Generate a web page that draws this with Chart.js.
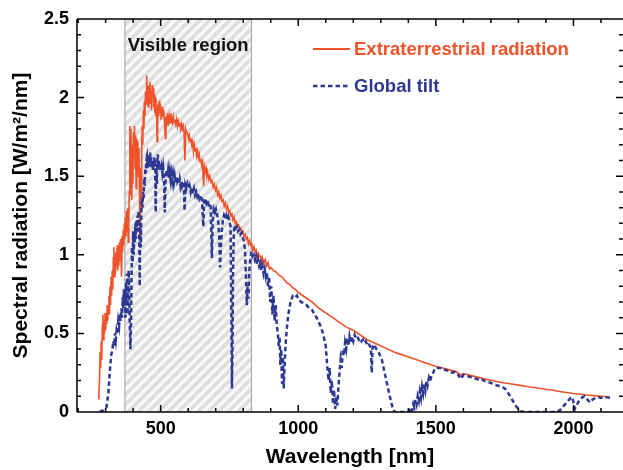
<!DOCTYPE html>
<html>
<head>
<meta charset="utf-8">
<script src="https://cdn.jsdelivr.net/npm/chart.js@4.4.0/dist/chart.umd.min.js"></script>
<style>
  html, body { margin: 0; padding: 0; background: #fff; }
</style>
</head>
<body>
<canvas id="spectrumChart" width="623" height="470"></canvas>
<script>
// Extraterrestrial radiation: wavelength [nm] and spectral radiation [W/m2/nm]
var extraWavelength = [
  275, 278, 280, 282, 284, 286, 288, 290, 292, 294,
  296, 298, 300, 302, 304, 306, 308, 310, 312, 314,
  316, 318, 320, 322, 324, 326, 328, 330, 332, 334,
  336, 338, 340, 342, 344, 346, 348, 350, 352, 354,
  356, 358, 360, 362, 364, 366, 368, 370, 372, 374,
  376, 378, 380, 382, 384, 386, 388, 390, 392, 394,
  395, 397, 399, 401, 403, 405, 407, 409, 411, 413,
  415, 417, 419, 421, 423, 425, 427, 429, 431, 433,
  435, 437, 439, 441, 443, 445, 447, 449, 451, 453,
  455, 457, 459, 461, 463, 465, 467, 469, 471, 473,
  475, 477, 479, 481, 483, 485, 487, 489, 491, 493,
  495, 497, 499, 502, 505, 508, 511, 514, 517, 519,
  522, 525, 528, 531, 534, 537, 540, 543, 546, 549,
  552, 555, 558, 561, 564, 567, 570, 573, 576, 579,
  582, 585, 588, 591, 594, 598, 601, 604, 607, 610,
  613, 616, 619, 622, 625, 628, 631, 634, 637, 640,
  643, 646, 649, 652, 656, 659, 662, 665, 668, 671,
  675, 679, 683, 687, 691, 695, 699, 703, 707, 711,
  715, 719, 723, 727, 731, 735, 739, 743, 747, 751,
  755, 759, 763, 767, 771, 775, 779, 783, 787, 791,
  795, 799, 803, 807, 811, 815, 819, 823, 827, 831,
  835, 839, 843, 847, 851, 855, 860, 864, 866, 870,
  875, 880, 885, 890, 895, 900, 910, 920, 930, 940,
  950, 960, 970, 980, 990, 1000, 1025, 1050, 1075, 1100,
  1125, 1150, 1175, 1200, 1225, 1250, 1275, 1300, 1325, 1350,
  1375, 1400, 1425, 1450, 1475, 1500, 1525, 1550, 1575, 1590,
  1600, 1625, 1650, 1675, 1700, 1725, 1750, 1775, 1800, 1825,
  1850, 1875, 1900, 1925, 1950, 1975, 2000, 2025, 2050, 2075,
  2100, 2133
];
var extraValues = [
  0.08, 0.22, 0.38, 0.28, 0.45, 0.33, 0.55, 0.62, 0.46, 0.58,
  0.50, 0.63, 0.52, 0.60, 0.56, 0.68, 0.58, 0.66, 0.74, 0.62,
  0.80, 0.68, 0.86, 0.74, 0.90, 0.78, 0.98, 1.05, 0.86, 1.00,
  0.88, 1.02, 0.92, 1.06, 0.90, 1.00, 0.93, 1.08, 0.96, 1.10,
  0.98, 0.86, 1.12, 1.02, 1.16, 1.06, 1.20, 1.10, 1.24, 1.12,
  1.28, 1.15, 1.30, 1.08, 1.20, 1.40, 1.82, 1.38, 1.80, 1.50,
  1.35, 1.70, 1.45, 1.78, 1.62, 1.82, 1.55, 1.76, 1.42, 1.74,
  1.60, 1.72, 1.50, 1.68, 1.40, 1.10, 1.55, 1.30, 1.68, 1.82,
  1.70, 1.92, 1.80, 1.98, 1.88, 2.04, 1.96, 2.14, 1.98, 2.07,
  1.94, 2.08, 1.98, 2.10, 1.96, 2.04, 1.92, 2.08, 2.00, 2.06,
  1.94, 2.02, 1.90, 2.00, 1.88, 1.95, 1.72, 1.92, 1.96, 1.88,
  1.98, 1.90, 1.96, 1.86, 1.94, 1.88, 1.92, 1.84, 1.74, 1.88,
  1.84, 1.90, 1.82, 1.88, 1.84, 1.90, 1.86, 1.84, 1.88, 1.84,
  1.86, 1.83, 1.86, 1.82, 1.85, 1.82, 1.84, 1.80, 1.83, 1.80,
  1.82, 1.78, 1.60, 1.80, 1.78, 1.77, 1.74, 1.76, 1.72, 1.74,
  1.70, 1.72, 1.66, 1.70, 1.66, 1.68, 1.63, 1.66, 1.62, 1.64,
  1.59, 1.61, 1.57, 1.59, 1.44, 1.56, 1.53, 1.55, 1.50, 1.52,
  1.48, 1.50, 1.46, 1.47, 1.43, 1.45, 1.41, 1.43, 1.38, 1.40,
  1.36, 1.38, 1.34, 1.35, 1.31, 1.33, 1.29, 1.31, 1.27, 1.28,
  1.25, 1.26, 1.22, 1.24, 1.20, 1.21, 1.18, 1.19, 1.16, 1.17,
  1.14, 1.15, 1.12, 1.13, 1.10, 1.11, 1.07, 1.09, 1.06, 1.07,
  1.03, 1.05, 1.02, 1.03, 0.97, 1.01, 0.99, 0.99, 0.94, 0.98,
  0.95, 0.97, 0.93, 0.95, 0.91, 0.92, 0.90, 0.89, 0.87, 0.86,
  0.84, 0.82, 0.81, 0.79, 0.78, 0.76, 0.73, 0.70, 0.66, 0.63,
  0.60, 0.57, 0.54, 0.52, 0.49, 0.46, 0.44, 0.42, 0.40, 0.38,
  0.365, 0.35, 0.335, 0.32, 0.305, 0.29, 0.28, 0.268, 0.256, 0.235,
  0.245, 0.233, 0.222, 0.212, 0.202, 0.193, 0.185, 0.178, 0.171, 0.164,
  0.157, 0.151, 0.145, 0.138, 0.130, 0.124, 0.118, 0.113, 0.108, 0.104,
  0.100, 0.095
];

// Global tilt: wavelength [nm] and spectral radiation [W/m2/nm]
var globalWavelength = [
  278, 290, 303, 310, 315, 320, 325, 328, 331, 334,
  337, 340, 343, 346, 349, 351, 354, 357, 360, 362,
  364, 366, 368, 370, 372, 374, 376, 378, 380, 382,
  384, 386, 388, 390, 392, 394, 396, 398, 400, 402,
  404, 406, 408, 410, 412, 414, 416, 418, 420, 422,
  424, 426, 428, 430, 432, 434, 436, 438, 440, 442,
  444, 446, 448, 450, 452, 454, 456, 458, 460, 462,
  464, 466, 468, 470, 472, 474, 476, 478, 480, 482,
  484, 486, 488, 490, 492, 494, 496, 498, 500, 503,
  506, 509, 512, 515, 518, 521, 524, 527, 530, 533,
  536, 539, 542, 545, 548, 551, 554, 557, 560, 563,
  566, 569, 572, 575, 578, 581, 584, 587, 590, 593,
  597, 601, 605, 609, 613, 617, 621, 625, 629, 633,
  637, 641, 645, 650, 655, 658, 662, 666, 670, 674,
  678, 682, 686, 689, 693, 697, 701, 705, 709, 713,
  716, 719, 722, 726, 730, 734, 738, 742, 746, 750,
  754, 757, 759, 761, 763, 766, 770, 774, 778, 782,
  786, 790, 794, 798, 802, 806, 810, 813, 816, 819,
  822, 826, 830, 834, 838, 842, 846, 850, 854, 858,
  862, 866, 870, 874, 878, 882, 886, 890, 894, 898,
  902, 906, 910, 914, 918, 922, 926, 929, 932, 935,
  938, 941, 944, 947, 950, 953, 956, 960, 964, 968,
  972, 976, 980, 985, 990, 995, 1000, 1010, 1020, 1030,
  1040, 1050, 1060, 1070, 1080, 1090, 1100, 1105, 1110, 1114,
  1118, 1122, 1126, 1130, 1134, 1138, 1142, 1146, 1150, 1154,
  1158, 1162, 1166, 1170, 1174, 1178, 1182, 1186, 1190, 1195,
  1200, 1205, 1210, 1215, 1220, 1225, 1230, 1235, 1240, 1245,
  1250, 1255, 1260, 1264, 1267, 1270, 1274, 1278, 1284, 1290,
  1297, 1304, 1310, 1315, 1320, 1325, 1330, 1338, 1344, 1350,
  1360, 1370, 1380, 1390, 1400, 1405, 1410, 1414, 1418, 1422,
  1426, 1430, 1434, 1438, 1442, 1446, 1450, 1454, 1458, 1462,
  1466, 1470, 1475, 1480, 1485, 1490, 1495, 1500, 1510, 1520,
  1530, 1540, 1550, 1560, 1570, 1580, 1590, 1600, 1610, 1620,
  1630, 1640, 1650, 1660, 1670, 1680, 1690, 1700, 1710, 1720,
  1730, 1740, 1750, 1760, 1770, 1780, 1790, 1800, 1810, 1820,
  1840, 1860, 1880, 1900, 1920, 1940, 1950, 1960, 1970, 1980,
  1990, 1995, 2000, 2005, 2010, 2020, 2030, 2040, 2050, 2060,
  2070, 2080, 2090, 2100, 2110, 2120, 2140
];
var globalValues = [
  0.00, 0.01, 0.03, 0.12, 0.25, 0.36, 0.40, 0.45, 0.42, 0.50,
  0.46, 0.52, 0.50, 0.58, 0.55, 0.62, 0.58, 0.66, 0.60, 0.73,
  0.66, 0.78, 0.70, 0.76, 0.60, 0.82, 0.70, 0.88, 0.62, 0.80,
  0.90, 0.70, 0.55, 0.40, 0.52, 0.85, 1.05, 0.95, 1.15, 1.00,
  1.12, 1.08, 1.20, 1.10, 1.22, 1.15, 1.25, 1.18, 1.28, 1.10,
  0.80, 1.20, 1.05, 1.30, 1.36, 1.30, 1.40, 1.36, 1.48, 1.44,
  1.55, 1.52, 1.60, 1.62, 1.55, 1.64, 1.58, 1.62, 1.56, 1.65,
  1.58, 1.62, 1.55, 1.60, 1.54, 1.60, 1.56, 1.62, 1.55, 1.27,
  1.58, 1.45, 1.60, 1.64, 1.56, 1.60, 1.54, 1.58, 1.53, 1.56,
  1.52, 1.56, 1.50, 1.27, 1.48, 1.54, 1.50, 1.54, 1.49, 1.53,
  1.48, 1.52, 1.47, 1.51, 1.46, 1.50, 1.46, 1.50, 1.47, 1.49,
  1.45, 1.48, 1.44, 1.47, 1.44, 1.46, 1.43, 1.28, 1.44, 1.42,
  1.45, 1.42, 1.44, 1.40, 1.43, 1.39, 1.42, 1.38, 1.40, 1.37,
  1.39, 1.36, 1.38, 1.35, 1.18, 1.34, 1.36, 1.33, 1.35, 1.32,
  1.33, 1.30, 0.98, 1.20, 1.29, 1.27, 1.29, 1.26, 1.22, 1.10,
  0.92, 1.06, 1.15, 1.22, 1.25, 1.23, 1.25, 1.22, 1.24, 1.21,
  1.18, 0.60, 0.15, 0.40, 0.90, 1.15, 1.19, 1.17, 1.18, 1.15,
  1.16, 1.13, 1.14, 1.11, 1.09, 1.04, 0.86, 0.68, 0.80, 0.72,
  0.90, 0.97, 1.02, 0.99, 1.00, 0.97, 0.99, 0.94, 0.97, 0.93,
  0.95, 0.90, 0.93, 0.88, 0.91, 0.86, 0.89, 0.80, 0.86, 0.70,
  0.80, 0.62, 0.74, 0.58, 0.68, 0.55, 0.50, 0.42, 0.48, 0.30,
  0.40, 0.18, 0.35, 0.15, 0.28, 0.40, 0.48, 0.56, 0.62, 0.66,
  0.70, 0.72, 0.74, 0.74, 0.73, 0.74, 0.72, 0.70, 0.69, 0.68,
  0.66, 0.65, 0.62, 0.59, 0.55, 0.50, 0.42, 0.30, 0.20, 0.28,
  0.12, 0.20, 0.05, 0.14, 0.02, 0.10, 0.04, 0.16, 0.25, 0.33,
  0.28, 0.40, 0.36, 0.44, 0.40, 0.47, 0.42, 0.48, 0.44, 0.48,
  0.45, 0.49, 0.47, 0.48, 0.46, 0.47, 0.45, 0.46, 0.44, 0.45,
  0.43, 0.44, 0.42, 0.40, 0.25, 0.41, 0.43, 0.42, 0.40, 0.39,
  0.36, 0.33, 0.28, 0.24, 0.20, 0.16, 0.12, 0.06, 0.02, 0.00,
  0.00, 0.00, 0.00, 0.00, 0.00, 0.01, 0.03, 0.01, 0.05, 0.03,
  0.08, 0.05, 0.10, 0.07, 0.13, 0.09, 0.16, 0.12, 0.18, 0.14,
  0.20, 0.17, 0.22, 0.20, 0.24, 0.25, 0.27, 0.28, 0.28, 0.28,
  0.27, 0.265, 0.26, 0.25, 0.255, 0.24, 0.21, 0.235, 0.23, 0.225,
  0.22, 0.215, 0.21, 0.20, 0.205, 0.195, 0.19, 0.185, 0.175, 0.17,
  0.165, 0.16, 0.15, 0.13, 0.10, 0.07, 0.04, 0.02, 0.005, 0.00,
  0.00, 0.00, 0.00, 0.00, 0.00, 0.00, 0.01, 0.03, 0.05, 0.07,
  0.09, 0.095, 0.06, 0.02, 0.04, 0.07, 0.09, 0.10, 0.08, 0.06,
  0.08, 0.09, 0.095, 0.09, 0.095, 0.093, 0.09
];

var seriesLabels = ['Extraterrestrial radiation', 'Global tilt'];
var xTicks = [500, 1000, 1500, 2000];
var yTicks = [0, 0.5, 1, 1.5, 2, 2.5];
var visibleFrom = 370;
var visibleTo = 830;
var bandLabel = 'Visible region';

var RED = 'rgb(240, 82, 42)';
var BLUE = 'rgb(44, 56, 145)';
var FONT = '"Liberation Sans", Arial, sans-serif';

function toPoints(xs, ys) {
    var pts = [];
    for (var i = 0; i < xs.length; i++) {
        pts.push({ x: xs[i], y: ys[i] });
    }
    return pts;
}

// hatched "Visible region" band, drawn under the curves
var visibleBand = {
    id: 'visibleBand',
    beforeDatasetsDraw: function (chart) {
        var ctx = chart.ctx, area = chart.chartArea;
        var x0 = chart.scales.x.getPixelForValue(visibleFrom);
        var x1 = chart.scales.x.getPixelForValue(visibleTo);

        var s = 10;
        var tile = document.createElement('canvas');
        tile.width = s;
        tile.height = s;
        var t = tile.getContext('2d');
        t.fillStyle = '#f8f8f8';
        t.fillRect(0, 0, s, s);
        t.strokeStyle = '#dedede';
        t.lineWidth = 3.5;
        t.beginPath();
        t.moveTo(0, s); t.lineTo(s, 0);
        t.moveTo(-s / 2, s / 2); t.lineTo(s / 2, -s / 2);
        t.moveTo(s / 2, s * 1.5); t.lineTo(s * 1.5, s / 2);
        t.stroke();

        ctx.save();
        ctx.fillStyle = ctx.createPattern(tile, 'repeat');
        ctx.fillRect(x0, area.top, x1 - x0, area.bottom - area.top);
        ctx.strokeStyle = '#acacac';
        ctx.lineWidth = 1.2;
        ctx.beginPath();
        ctx.moveTo(x0, area.top); ctx.lineTo(x0, area.bottom);
        ctx.moveTo(x1, area.top); ctx.lineTo(x1, area.bottom);
        ctx.stroke();
        ctx.fillStyle = '#111';
        ctx.font = 'bold 18.5px ' + FONT;
        ctx.textAlign = 'center';
        ctx.textBaseline = 'middle';
        ctx.fillText(bandLabel, (x0 + x1) / 2, area.top + 27);
        ctx.restore();
    }
};

// box frame with inward major/minor ticks
var frameTicks = {
    id: 'frameTicks',
    afterDatasetsDraw: function (chart) {
        var ctx = chart.ctx, a = chart.chartArea;
        var xs = chart.scales.x, ys = chart.scales.y;
        ctx.save();
        ctx.strokeStyle = '#000';
        ctx.lineWidth = 1.5;
        ctx.beginPath();
        ctx.moveTo(a.left, a.top); ctx.lineTo(a.right, a.top);
        ctx.moveTo(a.left, a.top); ctx.lineTo(a.left, a.bottom);
        ctx.moveTo(a.left, a.bottom); ctx.lineTo(a.right, a.bottom);
        for (var v = 200; v <= 2100; v += 100) {
            var len = (v % 500 === 0) ? 7 : 4;
            var px = xs.getPixelForValue(v);
            ctx.moveTo(px, a.bottom); ctx.lineTo(px, a.bottom - len);
            ctx.moveTo(px, a.top); ctx.lineTo(px, a.top + len);
        }
        for (var k = 1; k < 25; k++) {
            var ylen = (k % 5 === 0) ? 7 : 4;
            var py = ys.getPixelForValue(k / 10);
            ctx.moveTo(a.left, py); ctx.lineTo(a.left + ylen, py);
            ctx.moveTo(a.right, py); ctx.lineTo(a.right - ylen, py);
        }
        ctx.stroke();
        ctx.restore();
    }
};

// legend inside the plot, text in the series colour
var insideLegend = {
    id: 'insideLegend',
    afterDraw: function (chart) {
        var ctx = chart.ctx;
        var rows = [49, 86];
        ctx.save();
        chart.data.datasets.forEach(function (ds, i) {
            var y = rows[i];
            ctx.strokeStyle = ds.borderColor;
            ctx.lineWidth = i === 0 ? 1.8 : 2.5;
            ctx.setLineDash(ds.borderDash || []);
            ctx.beginPath();
            ctx.moveTo(313, y);
            ctx.lineTo(350, y);
            ctx.stroke();
            ctx.setLineDash([]);
            ctx.fillStyle = ds.borderColor;
            ctx.font = 'bold 18.5px ' + FONT;
            ctx.textAlign = 'left';
            ctx.textBaseline = 'middle';
            ctx.fillText(ds.label, 354, y + 1);
        });
        ctx.restore();
    }
};

var ctx = document.getElementById('spectrumChart').getContext('2d');

var spectrumChart = new Chart(ctx, {
    type: 'line',
    data: {
        datasets: [{
            label: seriesLabels[0],
            data: toPoints(extraWavelength, extraValues),
            borderColor: RED,
            borderWidth: 1.6,
            pointRadius: 0,
            tension: 0,
            order: 2
        },
        {
            label: seriesLabels[1],
            data: toPoints(globalWavelength, globalValues),
            borderColor: BLUE,
            borderWidth: 2.5,
            borderDash: [4.5, 3],
            pointRadius: 0,
            tension: 0,
            order: 1
        }]
    },
    options: {
        responsive: false,
        animation: false,
        layout: { padding: { top: 19, right: 0, left: 0, bottom: 0 } },
        plugins: {
            legend: { display: false },
            tooltip: { enabled: false }
        },
        scales: {
            x: {
                type: 'linear',
                min: 196,
                max: 2180,
                afterBuildTicks: function (scale) {
                    scale.ticks = xTicks.map(function (v) { return { value: v }; });
                },
                afterFit: function (scale) { scale.height = 58; },
                grid: { display: false, drawTicks: false },
                border: { display: false },
                ticks: {
                    padding: 6,
                    color: '#000',
                    font: { family: FONT, size: 18, weight: 'bold' },
                    callback: function (value) { return String(value); }
                },
                title: {
                    display: true,
                    text: 'Wavelength [nm]',
                    color: '#000',
                    padding: 0,
                    font: { family: FONT, size: 21, weight: 'bold' }
                }
            },
            y: {
                min: 0,
                max: 2.5,
                afterBuildTicks: function (scale) {
                    scale.ticks = yTicks.map(function (v) { return { value: v }; });
                },
                afterFit: function (scale) { scale.width = 77; },
                grid: { display: false, drawTicks: false },
                border: { display: false },
                ticks: {
                    padding: 8,
                    color: '#000',
                    font: { family: FONT, size: 18, weight: 'bold' },
                    callback: function (value) { return String(value); }
                },
                title: {
                    display: true,
                    text: 'Spectral radiation [W/m\u00b2/nm]',
                    color: '#000',
                    padding: { top: 9, bottom: 0 },
                    font: { family: FONT, size: 21, weight: 'bold' }
                }
            }
        }
    },
    plugins: [visibleBand, frameTicks, insideLegend]
});
</script>
</body>
</html>
